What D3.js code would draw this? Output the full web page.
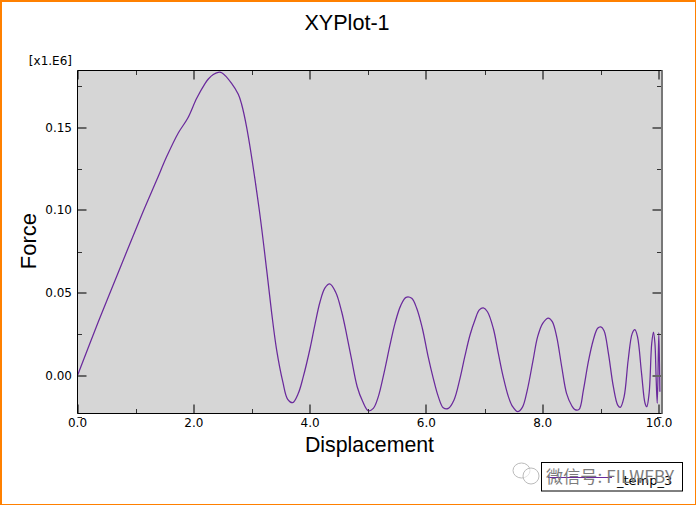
<!DOCTYPE html>
<html><head><meta charset="utf-8">
<style>html,body{margin:0;padding:0;background:#fff}svg{display:block}text{font-family:"Liberation Sans",Arial,sans-serif}</style>
<script src="https://cdn.jsdelivr.net/npm/d3@7"></script></head><body>
<script>
const displacement=[0,0.358,0.72,1.09,1.362,1.534,1.733,1.895,2.05,2.19,2.25,2.335,2.42,2.48,2.65,2.765,2.82,2.91,3.126,3.253,3.34,3.425,3.53,3.615,3.70,3.797,3.883,4.0,4.084,4.17,4.256,4.337,4.44,4.543,4.63,4.715,4.81,4.905,5.0,5.087,5.173,5.27,5.374,5.46,5.558,5.65,5.747,5.833,5.93,6.03,6.118,6.205,6.29,6.377,6.475,6.578,6.66,6.75,6.835,6.91,6.98,7.05,7.15,7.237,7.32,7.41,7.484,7.57,7.65,7.735,7.83,7.913,8.0,8.097,8.165,8.24,8.327,8.41,8.5,8.555,8.625,8.70,8.785,8.87,8.945,9.0,9.055,9.13,9.215,9.29,9.335,9.40,9.47,9.54,9.585,9.63,9.70,9.76,9.79,9.83,9.875,9.905,9.93,9.95,9.97,9.997,10.015];
const force=[0,0.0325,0.064,0.096,0.1183,0.1325,0.1468,0.1557,0.1678,0.1765,0.1795,0.1822,0.1835,0.1833,0.1769,0.1702,0.1645,0.15,0.1002,0.0639,0.0376,0.0154,-0.0037,-0.0144,-0.0164,-0.0108,-0.0007,0.0165,0.031,0.0445,0.053,0.0554,0.0504,0.0386,0.0245,0.0094,-0.0068,-0.0158,-0.0213,-0.0199,-0.0128,0.0013,0.0185,0.0316,0.0423,0.0473,0.0467,0.0407,0.0286,0.0114,-0.0017,-0.0128,-0.0195,-0.0199,-0.0148,-0.0017,0.0114,0.0245,0.0336,0.0397,0.0409,0.0386,0.0286,0.0134,-0.0007,-0.0128,-0.0189,-0.0219,-0.0193,-0.0088,0.0084,0.0235,0.0316,0.0348,0.0326,0.0235,0.0053,-0.0108,-0.0183,-0.0207,-0.0205,-0.0088,0.0084,0.0215,0.0286,0.0294,0.0271,0.0134,-0.0068,-0.0179,-0.0193,-0.0128,0.0094,0.0255,0.0277,0.0235,0.0013,-0.0168,-0.0189,-0.0108,0.0195,0.0263,0.0195,-0.0007,-0.0168,0.0259,-0.0098];
const xMajor=[0,2,4,6,8,10], xMinor=[1,3,5,7,9];
const yMajor=[0,0.05,0.10,0.15], yMinor=[-0.025,0.025,0.075,0.125,0.175];
const title="XYPlot-1", xTitle="Displacement", yTitle="Force", multiplier="[x1.E6]", legendText="_temp_3", watermark="微信号: FILWFBY";

const W=696,H=505;
const x=d3.scaleLinear().domain([0,10]).range([77.5,659]);
const y=d3.scaleLinear().domain([0,0.15]).range([375.5,127.7]);
const L=77.5,R=661.5,T=70.5,B=413.5;
const svg=d3.select("body").append("svg").attr("width",W).attr("height",H);
const org="#ff8000";
svg.append("rect").attr("x",0).attr("y",0).attr("width",W).attr("height",H).attr("fill",org);
svg.append("rect").attr("x",2).attr("y",2).attr("width",W-3).attr("height",H-3).attr("fill","#fff");
svg.append("rect").attr("x",L).attr("y",T).attr("width",R-L).attr("height",B-T).attr("fill","#d6d6d6");
svg.append("clipPath").attr("id","c").append("rect").attr("x",L).attr("y",T).attr("width",R-L).attr("height",B-T);
const line=d3.line().x((d,i)=>x(displacement[i])).y((d,i)=>y(force[i])).curve(d3.curveCatmullRom.alpha(0.5));
svg.append("path").datum(force).attr("clip-path","url(#c)").attr("d",line).attr("fill","none").attr("stroke","#6a2a9c").attr("stroke-width",1.25).attr("stroke-linejoin","round");
const tick=(x1,y1,x2,y2,c,w)=>svg.append("line").attr("x1",x1).attr("y1",y1).attr("x2",x2).attr("y2",y2).attr("stroke",c).attr("stroke-width",w);
const rx=v=>Math.round(x(v)), ry=v=>Math.round(y(v));
xMajor.forEach(v=>{tick(rx(v),B,rx(v),B-9,"#666",2);tick(rx(v),T,rx(v),T+9,"#666",2);});
xMinor.forEach(v=>{tick(rx(v)+0.5,B,rx(v)+0.5,B-4.5,"#333",1);tick(rx(v)+0.5,T,rx(v)+0.5,T+4.5,"#333",1);});
yMajor.forEach(v=>{tick(L,ry(v),L+9,ry(v),"#666",2);tick(R,ry(v),R-9,ry(v),"#666",2);});
yMinor.forEach(v=>{tick(L,ry(v)+0.5,L+4.5,ry(v)+0.5,"#333",1);tick(R,ry(v)+0.5,R-4.5,ry(v)+0.5,"#333",1);});
tick(L,T,R+1,T,"#000",1);tick(L,B,R+1,B,"#000",1);tick(L,T,L,B,"#000",1);
tick(R+0.5,T,R+0.5,B,"#777",2);
const lab="DejaVu Sans";
xMajor.forEach(v=>svg.append("text").attr("x",x(v)).attr("y",427).attr("text-anchor","middle").attr("font-size",12).style("font-family",lab).text(v.toFixed(1)));
yMajor.forEach(v=>svg.append("text").attr("x",72).attr("y",y(v)+4).attr("text-anchor","end").attr("font-size",12).style("font-family",lab).text(v.toFixed(2)));
svg.append("text").attr("x",72).attr("y",65).attr("text-anchor","end").attr("font-size",12).style("font-family",lab).text(multiplier);
svg.append("text").attr("x",347).attr("y",29.5).attr("text-anchor","middle").attr("font-size",21.6).text(title);
svg.append("text").attr("x",369.5).attr("y",451.5).attr("text-anchor","middle").attr("font-size",21.3).text(xTitle);
svg.append("text").attr("transform","translate(36,241) rotate(-90)").attr("text-anchor","middle").attr("font-size",22).text(yTitle);
// legend box with line sample
svg.append("rect").attr("x",541.5).attr("y",462.5).attr("width",141).attr("height",28.5).attr("fill","#fff").attr("stroke","#000");
tick(548,477.5,612,477.5,"#6a2a9c",1.2);
svg.append("text").attr("x",617).attr("y",485).attr("font-size",13).style("font-family",lab).text(legendText);
// watermark
const bubbles=[[521.5,470.5,8.5,7.5],[531,476,8,8]];
svg.selectAll("ellipse.b").data(bubbles).enter().append("ellipse").attr("class","b").attr("cx",d=>d[0]).attr("cy",d=>d[1]).attr("rx",d=>d[2]).attr("ry",d=>d[3]).attr("fill","#fff").attr("fill-opacity",0.6).attr("stroke","#bbb").attr("stroke-width",1);
svg.append("text").attr("x",546).attr("y",482.5).attr("font-size",17).attr("fill","#7c7c7c").attr("textLength",128).attr("lengthAdjust","spacing").style("font-family","'Noto Sans CJK SC'").text(watermark);
</script></body></html>
